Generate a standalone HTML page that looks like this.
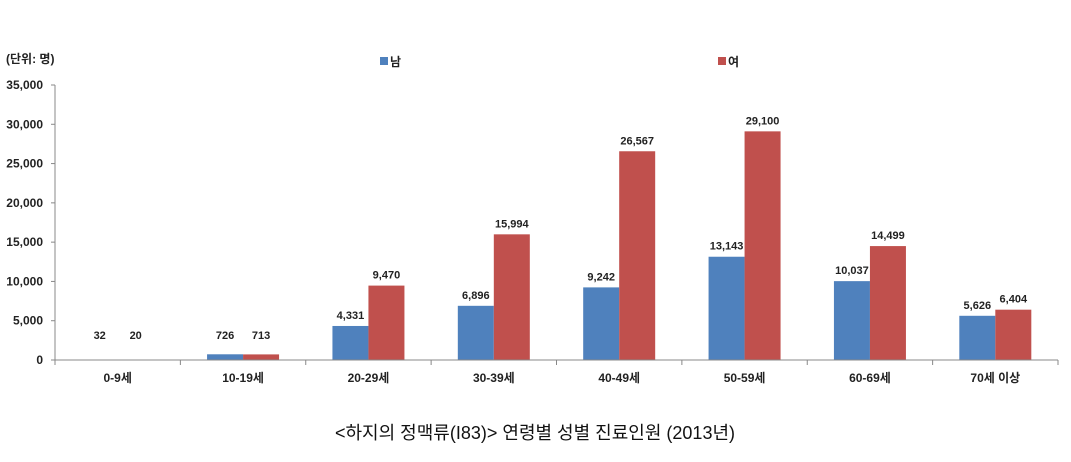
<!DOCTYPE html>
<html><head><meta charset="utf-8"><style>
body{margin:0;background:#fff;}
svg text{font-family:"Liberation Sans","Noto Sans CJK KR",sans-serif;}
</style></head><body>
<svg width="1071" height="457" xmlns="http://www.w3.org/2000/svg">
<text x="6" y="63" font-size="12" font-weight="bold" fill="#222">(단위: 명)</text>
<g>
<rect x="380" y="57" width="8" height="8" fill="#4f81bd"/>
<text x="390" y="66" font-size="12" font-weight="bold" fill="#222">남</text>
<rect x="718" y="57" width="8" height="8" fill="#c0504d"/>
<text x="728" y="66" font-size="12" font-weight="bold" fill="#222">여</text>
</g>
<g id="plot"></g>
<text x="535" y="439" font-size="18" text-anchor="middle" fill="#111">&lt;하지의 정맥류(I83)&gt; 연령별 성별 진료인원 (2013년)</text>
</svg>
<script>
const categories=["0-9세","10-19세","20-29세","30-39세","40-49세","50-59세","60-69세","70세 이상"];
const male=[32,726,4331,6896,9242,13143,10037,5626];
const female=[20,713,9470,15994,26567,29100,14499,6404];
const yTicks=[0,5000,10000,15000,20000,25000,30000,35000];
const X0=55,X1=1058,Y0=360,Y1=85,MAX=35000;
const cw=(X1-X0)/categories.length,bw=36;
const y=v=>Y0-(v/MAX)*(Y0-Y1);
const fmt=v=>v.toLocaleString('en-US');
const g=document.getElementById('plot');
const NS="http://www.w3.org/2000/svg";
function mk(t,a,txt){const e=document.createElementNS(NS,t);for(const k in a)e.setAttribute(k,a[k]);if(txt!=null)e.textContent=txt;g.appendChild(e);return e;}
yTicks.forEach(v=>{
 let l=mk('line',{x1:X0-4,x2:X0,y1:y(v),y2:y(v),stroke:'#888'});
 
 
 let t=mk('text',{x:X0-12,y:y(v)+4,'font-size':12,'font-weight':'bold','text-anchor':'end',fill:'#222'},fmt(v));
 
 
});
let ya=mk('line',{x1:X0,x2:X0,y1:Y1,y2:Y0,stroke:'#888'});


categories.forEach((c,i)=>{
 const cx=X0+cw*(i+0.5);
 const hm=Y0-y(male[i]),hf=Y0-y(female[i]);
 let b1=mk('rect',{x:cx-bw,y:y(male[i]),width:bw,height:hm,fill:'#4f81bd'});
 
 
 let b2=mk('rect',{x:cx,y:y(female[i]),width:bw,height:hf,fill:'#c0504d'});
 
 
 let l1=mk('text',{x:cx-bw/2,y:Math.min(y(male[i]),Y0-14)-7,'font-size':11,'font-weight':'bold','text-anchor':'middle',fill:'#222'},fmt(male[i]));
 
 
 let l2=mk('text',{x:cx+bw/2,y:Math.min(y(female[i]),Y0-14)-7,'font-size':11,'font-weight':'bold','text-anchor':'middle',fill:'#222'},fmt(female[i]));
 
 
 let xl=mk('text',{x:cx,y:Y0+22,'font-size':12,'font-weight':'bold','text-anchor':'middle',fill:'#222'},c);
 
 
});
for(let i=0;i<=categories.length;i++){
 let t=mk('line',{x1:X0+cw*i,x2:X0+cw*i,y1:Y0,y2:Y0+5,stroke:'#888'});
 
 
}
let xa=mk('line',{x1:X0,x2:X1,y1:Y0,y2:Y0,stroke:'#888'});


</script>
</body></html>
